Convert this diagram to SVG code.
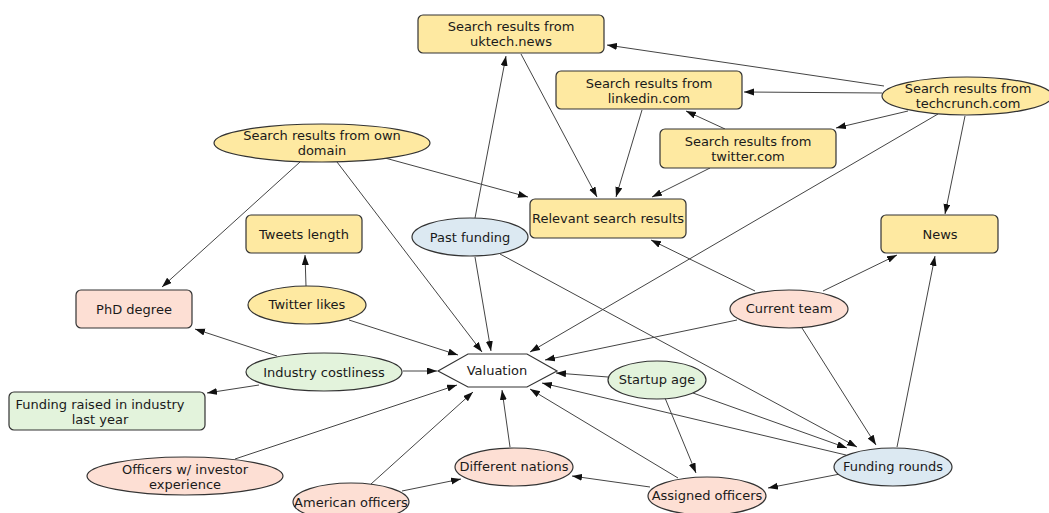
<svg xmlns="http://www.w3.org/2000/svg" width="1049" height="513" viewBox="0 0 1049 513">
<style>
text{font-family:"DejaVu Sans",Verdana,sans-serif;font-size:13px;fill:#1a1a1a;text-anchor:middle}
.n{stroke:#333;stroke-width:1.2}
.y{fill:#fee9a1}.p{fill:#fddfd4}.g{fill:#e3f3dc}.b{fill:#dce9f2}.w{fill:#fff}
#edges line{stroke:#444;stroke-width:1;marker-end:url(#ah)}
</style>
<defs>
<marker id="ah" markerUnits="userSpaceOnUse" markerWidth="11" markerHeight="8" refX="10" refY="3.5" orient="auto">
<path d="M0,0 L10,3.5 L0,7 z" fill="#111"/>
</marker>
</defs>
<rect width="1049" height="513" fill="#fff"/>
<g id="edges">
<line x1="884" y1="86" x2="607" y2="45"/>
<line x1="882" y1="93" x2="744" y2="92"/>
<line x1="908" y1="111" x2="836" y2="128"/>
<line x1="938" y1="114" x2="530" y2="352"/>
<line x1="965" y1="116" x2="945" y2="214"/>
<line x1="725" y1="129" x2="686" y2="111"/>
<line x1="521" y1="54" x2="597" y2="197"/>
<line x1="642" y1="110" x2="616" y2="197"/>
<line x1="710" y1="168" x2="652" y2="197"/>
<line x1="385" y1="158" x2="528" y2="197"/>
<line x1="300" y1="162" x2="162" y2="287"/>
<line x1="337" y1="162" x2="482" y2="352"/>
<line x1="475" y1="218" x2="506" y2="56"/>
<line x1="475" y1="257" x2="491" y2="351"/>
<line x1="500" y1="254" x2="857" y2="447"/>
<line x1="306" y1="286" x2="305" y2="255"/>
<line x1="349" y1="320" x2="458" y2="355"/>
<line x1="277" y1="356" x2="195" y2="329"/>
<line x1="259" y1="385" x2="207" y2="393"/>
<line x1="403" y1="371" x2="437" y2="371"/>
<line x1="235" y1="459" x2="457" y2="385"/>
<line x1="371" y1="484" x2="473" y2="392"/>
<line x1="402" y1="491" x2="461" y2="479"/>
<line x1="510" y1="447" x2="502" y2="390"/>
<line x1="650" y1="487" x2="572" y2="476"/>
<line x1="678" y1="478" x2="530" y2="389"/>
<line x1="608" y1="377" x2="556" y2="373"/>
<line x1="665" y1="398" x2="696" y2="473"/>
<line x1="693" y1="393" x2="847" y2="448"/>
<line x1="846" y1="455" x2="542" y2="383"/>
<line x1="840" y1="474" x2="768" y2="488"/>
<line x1="897" y1="447" x2="935" y2="256"/>
<line x1="737" y1="320" x2="545" y2="360"/>
<line x1="755" y1="291" x2="651" y2="240"/>
<line x1="823" y1="291" x2="897" y2="255"/>
<line x1="802" y1="328" x2="876" y2="445"/>
</g>
<g id="uktech"><rect class="n y" x="418" y="15" width="186" height="38" rx="5"/><text x="511" y="31">Search results from</text><text x="511" y="46">uktech.news</text></g>
<g id="linkedin"><rect class="n y" x="556" y="71" width="186" height="38" rx="5"/><text x="649" y="88">Search results from</text><text x="649" y="103">linkedin.com</text></g>
<g id="twittercom"><rect class="n y" x="660" y="129" width="176" height="39" rx="5"/><text x="748" y="146">Search results from</text><text x="748" y="161">twitter.com</text></g>
<g id="techcrunch"><ellipse class="n y" cx="967" cy="96" rx="85" ry="19"/><text x="968" y="93">Search results from</text><text x="968" y="108">techcrunch.com</text></g>
<g id="owndomain"><ellipse class="n y" cx="322" cy="143" rx="108" ry="19"/><text x="322" y="140">Search results from own</text><text x="322" y="155">domain</text></g>
<g id="relevant"><rect class="n y" x="530" y="199" width="156" height="39" rx="5"/><text x="608" y="223">Relevant search results</text></g>
<g id="news"><rect class="n y" x="881" y="215" width="117" height="38" rx="5"/><text x="940" y="239">News</text></g>
<g id="tweetslength"><rect class="n y" x="246" y="215" width="116" height="38" rx="5"/><text x="304" y="239">Tweets length</text></g>
<g id="pastfunding"><ellipse class="n b" cx="470" cy="237" rx="58" ry="19"/><text x="470" y="242">Past funding</text></g>
<g id="phd"><rect class="n p" x="76" y="290" width="116" height="38" rx="5"/><text x="134" y="314">PhD degree</text></g>
<g id="twitterlikes"><ellipse class="n y" cx="307" cy="305" rx="59" ry="19"/><text x="307" y="309">Twitter likes</text></g>
<g id="currentteam"><ellipse class="n p" cx="789" cy="309" rx="59" ry="19"/><text x="789" y="313">Current team</text></g>
<g id="industry"><ellipse class="n g" cx="324" cy="372" rx="78" ry="19"/><text x="324" y="377">Industry costliness</text></g>
<g id="fundingraised"><rect class="n g" x="9" y="392" width="196" height="38" rx="5"/><text x="100" y="409">Funding raised in industry</text><text x="100" y="424">last year</text></g>
<g id="valuation"><polygon class="n w" points="438,371 468,354 527,354 557,371 527,387 468,387"/><text x="497" y="375">Valuation</text></g>
<g id="startupage"><ellipse class="n g" cx="657" cy="380" rx="49" ry="19"/><text x="657" y="384">Startup age</text></g>
<g id="officersinv"><ellipse class="n p" cx="185" cy="476" rx="98" ry="19"/><text x="185" y="474">Officers w/ investor</text><text x="185" y="489">experience</text></g>
<g id="american"><ellipse class="n p" cx="351" cy="502" rx="58" ry="19"/><text x="351" y="507">American officers</text></g>
<g id="nations"><ellipse class="n p" cx="514" cy="467" rx="59" ry="19"/><text x="514" y="471">Different nations</text></g>
<g id="assigned"><ellipse class="n p" cx="707" cy="496" rx="59" ry="19"/><text x="707" y="500">Assigned officers</text></g>
<g id="fundingrounds"><ellipse class="n b" cx="893" cy="467" rx="59" ry="19"/><text x="893" y="471">Funding rounds</text></g>
</svg>
